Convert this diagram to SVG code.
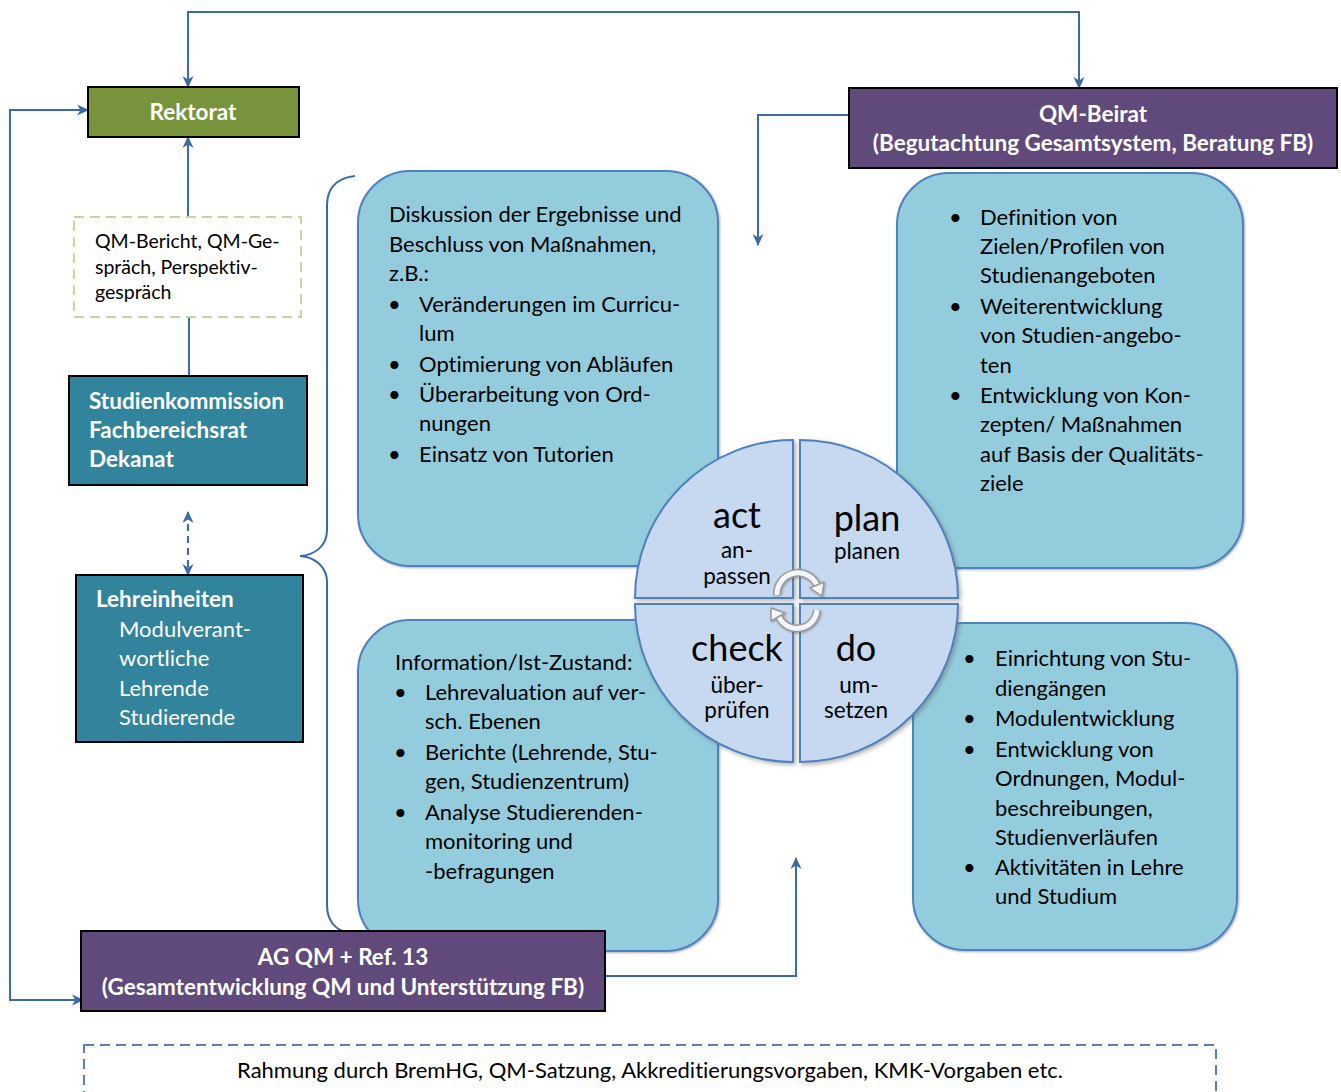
<svg xmlns="http://www.w3.org/2000/svg" width="1341" height="1092" viewBox="0 0 1341 1092">
  <defs>
    <style>
      text { font-family: Lato, "Open Sans", "Liberation Sans", sans-serif; font-variant-ligatures: none; }
      .body { font-size: 22px; fill: #000; }
      .small { font-size: 19.5px; fill: #000; }
      .white-b { font-size: 22.5px; font-weight: bold; fill: #fff; }
      .white { font-size: 22px; fill: #fff; }
      .big { font-size: 36px; fill: #000; text-anchor: middle; }
      .sub { font-size: 22.5px; fill: #000; text-anchor: middle; }
      .mid { text-anchor: middle; }
      .rbox { fill: #93CDDD; stroke: #4F81BD; stroke-width: 2; }
      .quad { fill: #C6D9F1; stroke: #4F81BD; stroke-width: 2; }
      .edge { fill: none; stroke: #3B6BA5; stroke-width: 2; }
      .frame { stroke: #000; stroke-width: 2; }
    </style>
    <marker id="arrow" viewBox="0 0 12 12" refX="11" refY="6" markerWidth="12" markerHeight="12" markerUnits="userSpaceOnUse" orient="auto-start-reverse">
      <path d="M0,0.5 L12,6 L0,11.5 L3.5,6 Z" fill="#3B6BA5"/>
    </marker>
    <filter id="shadow" x="-10%" y="-10%" width="130%" height="130%">
      <feDropShadow dx="2" dy="2" stdDeviation="2" flood-color="#666" flood-opacity="0.5"/>
    </filter>
    <filter id="soft" x="-20%" y="-20%" width="140%" height="140%">
      <feDropShadow dx="1" dy="1" stdDeviation="1" flood-color="#555" flood-opacity="0.5"/>
    </filter>
  </defs>

  <!-- connectors -->
  <g id="connectors">
    <polyline class="edge" points="188,87 188,12 1079,12 1079,88" marker-start="url(#arrow)" marker-end="url(#arrow)"/>
    <polyline class="edge" points="88,110 10,110 10,1000 83,1000" marker-start="url(#arrow)" marker-end="url(#arrow)"/>
    <line class="edge" x1="188" y1="217" x2="188" y2="137" marker-end="url(#arrow)"/>
    <line class="edge" x1="189" y1="317" x2="189" y2="376"/>
    <line class="edge" x1="188" y1="512" x2="188" y2="575" stroke-dasharray="7,5" marker-start="url(#arrow)" marker-end="url(#arrow)"/>
    <polyline class="edge" points="849,115 758,115 758,245" marker-end="url(#arrow)"/>
    <polyline class="edge" points="605,976 796,976 796,858" marker-end="url(#arrow)"/>
    <!-- curly brace grouping the faculty bodies -->
    <path class="edge" stroke="#4F81BD" d="M355,176 C335,178 327,190 327,205 L327,530 C327,546 315,555 300,556 C315,557 327,567 327,582 L327,905 C327,921 336,930 346,932"/>
  </g>

  <!-- rounded content boxes -->
  <g id="act-box">
    <rect class="rbox" x="358" y="171" width="360" height="395" rx="52" filter="url(#soft)"/>
    <text class="body" x="389" y="222">Diskussion der Ergebnisse und</text>
    <text class="body" x="389" y="252">Beschluss von Maßnahmen,</text>
    <text class="body" x="389" y="281">z.B.:</text>
    <text class="body" x="388" y="312">•</text><text class="body" x="419" y="312">Veränderungen im Curricu-</text>
    <text class="body" x="419" y="341">lum</text>
    <text class="body" x="388" y="372">•</text><text class="body" x="419" y="372">Optimierung von Abläufen</text>
    <text class="body" x="388" y="402">•</text><text class="body" x="419" y="402">Überarbeitung von Ord-</text>
    <text class="body" x="419" y="431">nungen</text>
    <text class="body" x="388" y="462">•</text><text class="body" x="419" y="462">Einsatz von Tutorien</text>
  </g>

  <g id="plan-box">
    <rect class="rbox" x="897" y="173" width="346" height="395" rx="52" filter="url(#soft)"/>
    <text class="body" x="949" y="225">•</text><text class="body" x="980" y="225">Definition von</text>
    <text class="body" x="980" y="254">Zielen/Profilen von</text>
    <text class="body" x="980" y="283">Studienangeboten</text>
    <text class="body" x="949" y="314">•</text><text class="body" x="980" y="314">Weiterentwicklung</text>
    <text class="body" x="980" y="343">von Studien-angebo-</text>
    <text class="body" x="980" y="373">ten</text>
    <text class="body" x="949" y="403">•</text><text class="body" x="980" y="403">Entwicklung von Kon-</text>
    <text class="body" x="980" y="432">zepten/ Maßnahmen</text>
    <text class="body" x="980" y="462">auf Basis der Qualitäts-</text>
    <text class="body" x="980" y="491">ziele</text>
  </g>

  <g id="check-box">
    <rect class="rbox" x="358" y="620" width="360" height="331" rx="52" filter="url(#soft)"/>
    <text class="body" x="395" y="670">Information/Ist-Zustand:</text>
    <text class="body" x="394" y="700">•</text><text class="body" x="425" y="700">Lehrevaluation auf ver-</text>
    <text class="body" x="425" y="729">sch. Ebenen</text>
    <text class="body" x="394" y="760">•</text><text class="body" x="425" y="760">Berichte (Lehrende, Stu-</text>
    <text class="body" x="425" y="789">gen, Studienzentrum)</text>
    <text class="body" x="394" y="820">•</text><text class="body" x="425" y="820">Analyse Studierenden-</text>
    <text class="body" x="425" y="849">monitoring und</text>
    <text class="body" x="425" y="879">-befragungen</text>
  </g>

  <g id="do-box">
    <rect class="rbox" x="913" y="623" width="324" height="327" rx="52" filter="url(#soft)"/>
    <text class="body" x="963" y="666">•</text><text class="body" x="995" y="666">Einrichtung von Stu-</text>
    <text class="body" x="995" y="696">diengängen</text>
    <text class="body" x="963" y="726">•</text><text class="body" x="995" y="726">Modulentwicklung</text>
    <text class="body" x="963" y="757">•</text><text class="body" x="995" y="757">Entwicklung von</text>
    <text class="body" x="995" y="786">Ordnungen, Modul-</text>
    <text class="body" x="995" y="816">beschreibungen,</text>
    <text class="body" x="995" y="845">Studienverläufen</text>
    <text class="body" x="963" y="875">•</text><text class="body" x="995" y="875">Aktivitäten in Lehre</text>
    <text class="body" x="995" y="904">und Studium</text>
  </g>

  <!-- PDCA cycle -->
  <g id="pdca">
    <g filter="url(#shadow)">
      <path class="quad" d="M793,598 L635,598 A158,158 0 0 1 793,440 Z"/>
      <path class="quad" d="M800,598 L800,440 A158,158 0 0 1 958,598 Z"/>
      <path class="quad" d="M793,604 L793,762 A158,158 0 0 1 635,604 Z"/>
      <path class="quad" d="M800,604 L958,604 A158,158 0 0 1 800,762 Z"/>
    </g>
    <text class="big" x="737" y="528">act</text>
    <text class="sub" x="737" y="558">an-</text>
    <text class="sub" x="737" y="584">passen</text>
    <text class="big" x="867" y="531">plan</text>
    <text class="sub" x="867" y="559">planen</text>
    <text class="big" x="737" y="661">check</text>
    <text class="sub" x="737" y="693">über-</text>
    <text class="sub" x="737" y="718">prüfen</text>
    <text class="big" x="856" y="661">do</text>
    <text class="sub" x="859" y="693">um-</text>
    <text class="sub" x="856" y="718">setzen</text>
    <!-- circular arrows in the centre -->
    <g filter="url(#soft)">
      <path d="M777,595 A21,21 0 0 1 817,585" fill="none" stroke="#9A9A9A" stroke-width="8"/>
      <path d="M777,595 A21,21 0 0 1 817,585" fill="none" stroke="#F4F6FA" stroke-width="5"/>
      <polygon points="824,582 810,588 822,596" fill="#F4F6FA" stroke="#9A9A9A" stroke-width="1.5" stroke-linejoin="round"/>
      <path d="M817,610 A20,20 0 0 1 779,617" fill="none" stroke="#9A9A9A" stroke-width="8"/>
      <path d="M817,610 A20,20 0 0 1 779,617" fill="none" stroke="#F4F6FA" stroke-width="5"/>
      <polygon points="771,608 771,621 785,613" fill="#F4F6FA" stroke="#9A9A9A" stroke-width="1.5" stroke-linejoin="round"/>
    </g>
  </g>

  <!-- organisational units -->
  <g id="rektorat">
    <rect class="frame" x="88" y="87" width="211" height="50" fill="#77933C"/>
    <text class="white-b mid" x="193" y="120">Rektorat</text>
  </g>

  <g id="qm-bericht">
    <rect x="74" y="217" width="227" height="100" fill="#fff" stroke="#C3D69B" stroke-width="2" stroke-dasharray="10,6"/>
    <text class="small" x="95" y="248">QM-Bericht, QM-Ge-</text>
    <text class="small" x="95" y="274">spräch, Perspektiv-</text>
    <text class="small" x="95" y="299">gespräch</text>
  </g>

  <g id="studienkommission">
    <rect class="frame" x="69" y="376" width="238" height="109" fill="#31849B"/>
    <text class="white-b" x="89" y="409">Studienkommission</text>
    <text class="white-b" x="89" y="438">Fachbereichsrat</text>
    <text class="white-b" x="89" y="467">Dekanat</text>
  </g>

  <g id="lehreinheiten">
    <rect class="frame" x="76" y="575" width="227" height="167" fill="#31849B"/>
    <text class="white-b" x="96" y="607">Lehreinheiten</text>
    <text class="white" x="119" y="637">Modulverant-</text>
    <text class="white" x="119" y="666">wortliche</text>
    <text class="white" x="119" y="696">Lehrende</text>
    <text class="white" x="119" y="725">Studierende</text>
  </g>

  <g id="qm-beirat">
    <rect class="frame" x="849" y="88" width="488" height="80" fill="#604A7B"/>
    <text class="white-b mid" x="1093" y="122">QM-Beirat</text>
    <text class="white-b mid" x="1093" y="151">(Begutachtung Gesamtsystem, Beratung FB)</text>
  </g>

  <g id="ag-qm">
    <rect class="frame" x="81" y="931" width="524" height="80" fill="#604A7B"/>
    <text class="white-b mid" x="343" y="965">AG QM + Ref. 13</text>
    <text class="white-b mid" x="343" y="995">(Gesamtentwicklung QM und Unterstützung FB)</text>
  </g>

  <g id="rahmung">
    <rect x="84" y="1045" width="1132" height="80" fill="none" stroke="#4F81BD" stroke-width="2" stroke-dasharray="10,6"/>
    <text class="body mid" x="650" y="1078">Rahmung durch BremHG, QM-Satzung, Akkreditierungsvorgaben, KMK-Vorgaben etc.</text>
  </g>
</svg>
